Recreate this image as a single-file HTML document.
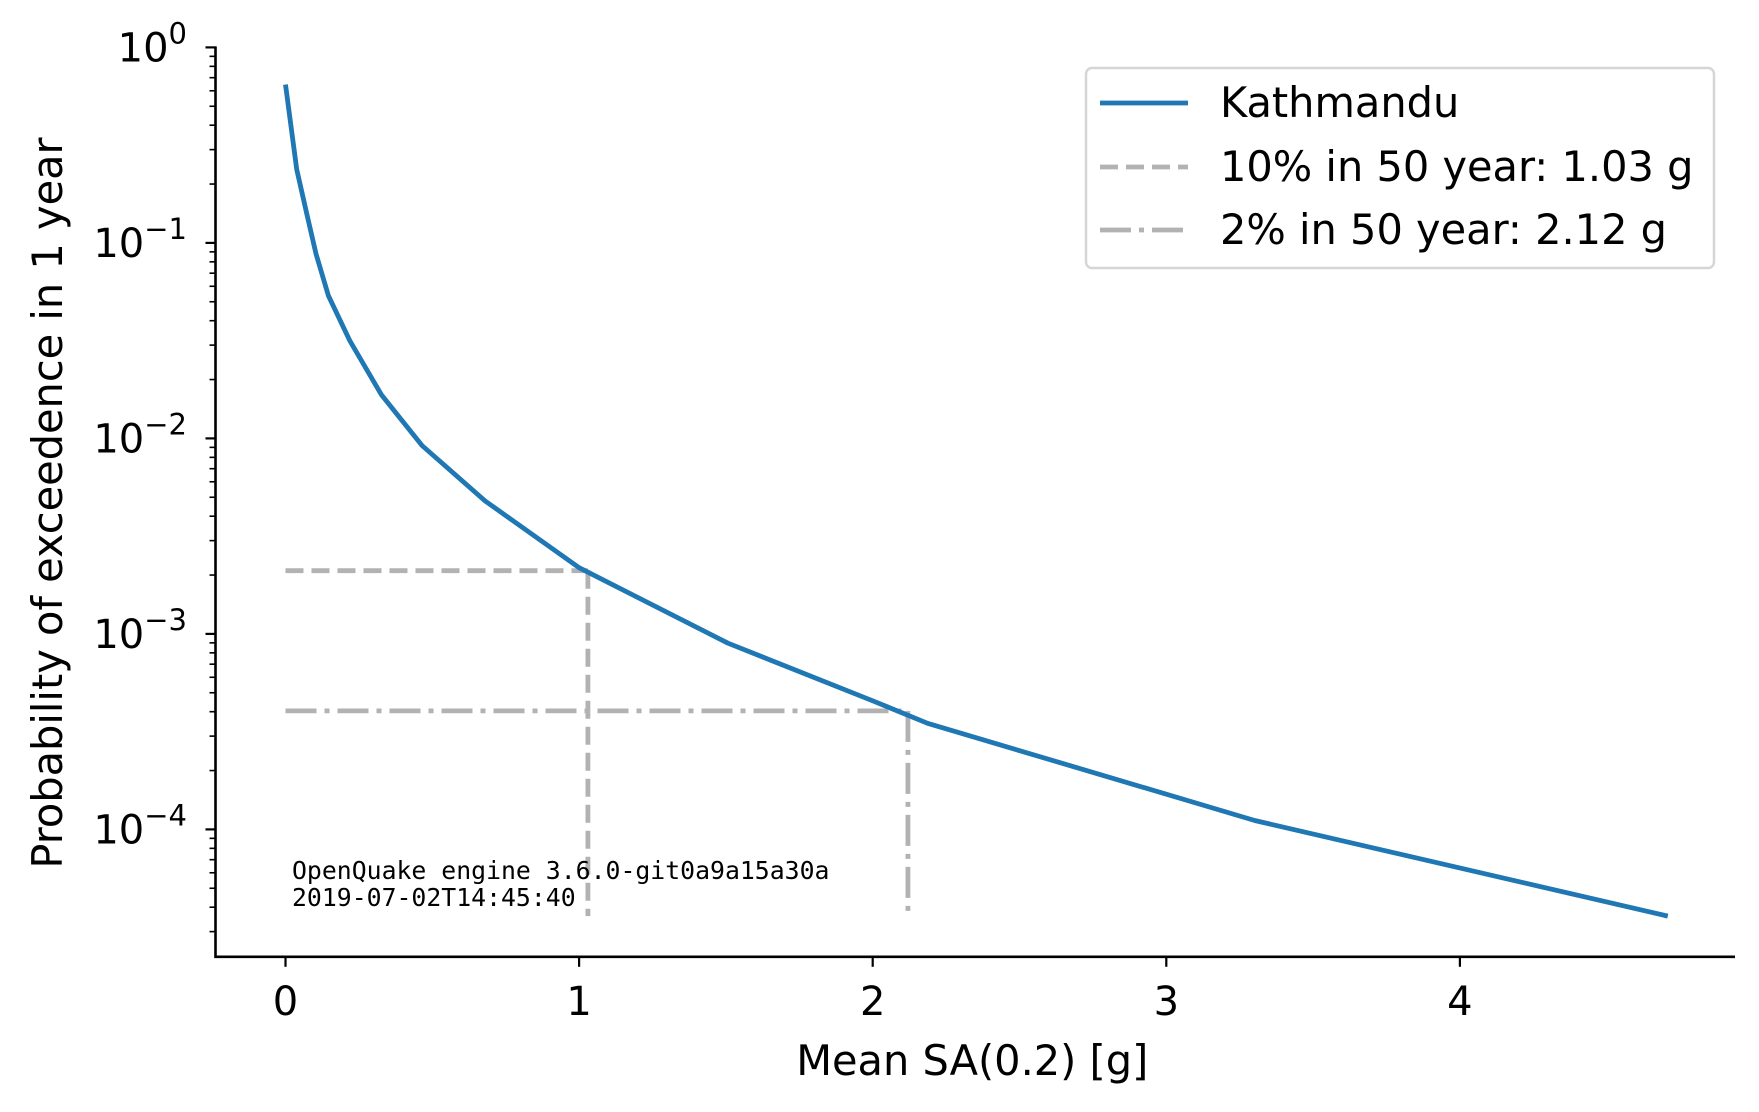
<!DOCTYPE html>
<html><head><meta charset="utf-8"><style>
html,body{margin:0;padding:0;background:#fff;}
svg{display:block;font-family:"DejaVu Sans","Liberation Sans",sans-serif;}
</style></head><body>
<svg id="chart" width="1759" height="1112" viewBox="0 0 1759 1112"></svg>
<script>
const xs = [0, 0.038, 0.073, 0.104, 0.146, 0.219, 0.327, 0.465, 0.68, 1.0, 1.507, 2.0, 2.187, 3.301, 4.708];
const poes = [0.645, 0.238, 0.140, 0.088, 0.0537, 0.0316, 0.0167, 0.0092, 0.00479, 0.00218, 0.000896, 0.000455, 0.000349, 0.000111, 0.000036];
const xTicks = [0, 1, 2, 3, 4];
const yTickExps = [0, -1, -2, -3, -4];
const refPoe = [0.002105, 0.000404];
const refIml = [1.03, 2.12];
const legendLabels = ["Kathmandu", "10% in 50 year: 1.03 g", "2% in 50 year: 2.12 g"];

const NS = "http://www.w3.org/2000/svg";
const svg = document.getElementById('chart');
const L = 215.5, R = 1735, T = 47.4, B = 956.8;
const X0 = 285.5, XU = 293.6, DEC = 195.5;
function sx(v){ return X0 + v * XU; }
function sy(v){ return T - Math.log10(v) * DEC; }
function mk(tag, attrs, parent){ const e = document.createElementNS(NS, tag); for (const k in attrs) e.setAttribute(k, attrs[k]); (parent||svg).appendChild(e); return e; }
const GRAY = "#b2b2b2", BLUE = "#1f77b4";
const ymin = 3.6e-5;
const LW = 4.8;

for (let i = 0; i < 2; i++) {
  const dash = i === 0 ? "18,8" : "31,8,5,8";
  const h = mk('line', {x1: sx(0), x2: sx(refIml[i]), y1: sy(refPoe[i]), y2: sy(refPoe[i]), stroke: GRAY, 'stroke-width': LW, 'stroke-dasharray': dash});
  
  
  const v = mk('line', {x1: sx(refIml[i]), x2: sx(refIml[i]), y1: sy(refPoe[i]), y2: sy(ymin), stroke: GRAY, 'stroke-width': LW, 'stroke-dasharray': dash});
  
  
}

const pts = xs.map((x, i) => sx(x).toFixed(1) + ',' + sy(poes[i]).toFixed(1)).join(' ');
const curve = mk('polyline', {points: pts, fill: 'none', stroke: BLUE, 'stroke-width': LW, 'stroke-linejoin': 'round'});



const sp = mk('path', {d: `M${L},${T-1} L${L},${B} L${R},${B}`, fill: 'none', stroke: '#000', 'stroke-width': 2.6});



xTicks.forEach(t => {
  mk('line', {x1: sx(t), x2: sx(t), y1: B, y2: B + 10, stroke: '#000', 'stroke-width': 2.2});
  const tx = mk('text', {x: sx(t), y: B + 58, 'text-anchor': 'middle', 'font-size': 40});
  tx.textContent = t;
  
  
});
yTickExps.forEach(e => {
  const y = sy(Math.pow(10, e));
  mk('line', {x1: L - 10, x2: L, y1: y, y2: y, stroke: '#000', 'stroke-width': 2.2});
  const tx = mk('text', {x: 187, y: y + 14, 'text-anchor': 'end', 'font-size': 40});
  tx.innerHTML = '10<tspan dy="-18" font-size="29">' + (e === 0 ? '0' : '\u2212' + (-e)) + '</tspan>';
  
  
});
for (let e = -5; e <= 0; e++) {
  for (let m = 2; m <= 9; m++) {
    const v = m * Math.pow(10, e);
    const y = sy(v);
    if (y < T || y > B) continue;
    mk('line', {x1: L - 6, x2: L, y1: y, y2: y, stroke: '#000', 'stroke-width': 1.6});
  }
}

const xl = mk('text', {x: (L + R) / 2 - 3, y: 1075, 'text-anchor': 'middle', 'font-size': 41.5});
xl.textContent = 'Mean SA(0.2) [g]';


const yl = mk('text', {x: 0, y: 0, 'text-anchor': 'middle', 'font-size': 41.5, transform: 'translate(62,503) rotate(-90)'});
yl.textContent = 'Probability of exceedence in 1 year';



const an = mk('text', {x: 292, y: 879, 'font-size': 24.8, 'font-family': '"DejaVu Sans Mono","Liberation Mono",monospace'});
an.innerHTML = '<tspan x="292">OpenQuake engine 3.6.0-git0a9a15a30a</tspan><tspan x="292" dy="27">2019-07-02T14:45:40</tspan>';



const lg = mk('g', {});


mk('rect', {x: 1086, y: 68, width: 628, height: 200, rx: 6, fill: '#fff', stroke: '#d6d6d6', 'stroke-width': 2.5}, lg);
const rowY = [103, 167, 230];
const styles = [[BLUE, 'none'], [GRAY, '18,8'], [GRAY, '31,8,5,8']];
legendLabels.forEach((lab, i) => {
  const ent = mk('g', {}, lg);
  
  
  mk('line', {x1: 1100, x2: 1188, y1: rowY[i], y2: rowY[i], stroke: styles[i][0], 'stroke-width': LW, 'stroke-dasharray': styles[i][1]}, ent);
  const t = mk('text', {x: 1220, y: rowY[i] + 14, 'font-size': 41.5}, ent);
  t.textContent = lab;
});
</script>
</body></html>
